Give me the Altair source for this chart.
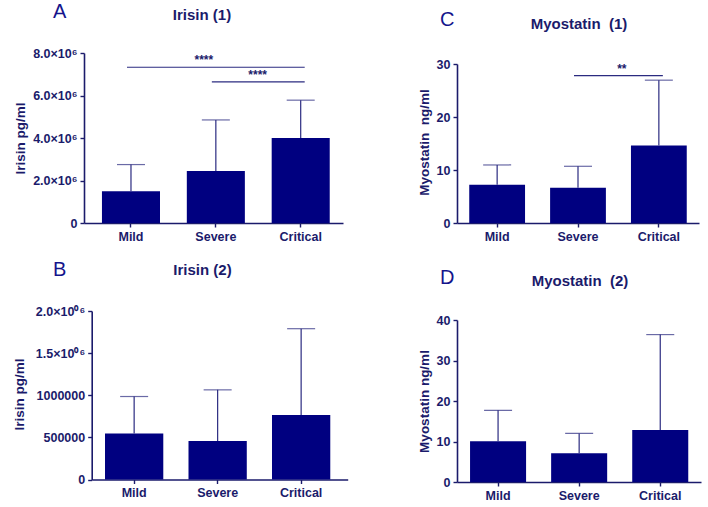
import altair as alt
import pandas as pd

# Disease-severity groups shared by all four panels
groups = ["Mild", "Severe", "Critical"]

# Irisin, cohort 1 (pg/ml): mean and SD
irisin1_mean = [1.49e6, 2.45e6, 4.00e6]
irisin1_sd = [1.26e6, 2.40e6, 1.78e6]

# Myostatin, cohort 1 (ng/ml): mean and SD
myostatin1_mean = [7.2, 6.65, 14.6]
myostatin1_sd = [3.75, 4.05, 12.35]

# Irisin, cohort 2 (pg/ml): mean and SD
irisin2_mean = [545000, 458000, 767000]
irisin2_sd = [440000, 606000, 1023000]

# Myostatin, cohort 2 (ng/ml): mean and SD
myostatin2_mean = [10.05, 7.1, 12.85]
myostatin2_sd = [7.65, 4.9, 23.55]

# Significance brackets: (from group, to group, height, stars)
irisin1_sig = [("Mild", "Critical", 7.33e6, "****"), ("Severe", "Critical", 6.64e6, "****")]
myostatin1_sig = [("Severe", "Critical", 27.8, "**")]

NAVY = "#000080"
INK = "#1b1b6b"
LINE = "#2b2b80"
FONT = "Liberation Sans"


def panel(mean, sd, letter, title, ytitle, ydomain, yvalues, label_expr,
          xscale, yrange, size, letter_xy, title_xy, ytitle_xy,
          yaxis_offset=0, xaxis_offset=0, sig=(), sig_text=()):
    df = pd.DataFrame({
        "group": groups,
        "mean": mean,
        "upper": [m + s for m, s in zip(mean, sd)],
    })
    xr, pin, pout, algn = xscale
    x = alt.X(
        "group:N",
        scale=alt.Scale(domain=groups, range=xr, paddingInner=pin,
                        paddingOuter=pout, align=algn),
        axis=alt.Axis(
            title=None, labelAngle=0, labelFont=FONT, labelFontSize=12.5,
            labelFontWeight="bold", labelColor=INK, labelPadding=3,
            domainColor=INK, domainWidth=1.6, tickColor=INK, tickWidth=1.4,
            tickSize=4, grid=False, offset=xaxis_offset,
        ),
    )
    y = alt.Y(
        "mean:Q",
        scale=alt.Scale(domain=ydomain, range=yrange, nice=False, zero=True),
        axis=alt.Axis(
            title=ytitle, values=yvalues, labelExpr=label_expr,
            labelFont=FONT, labelFontSize=12.5, labelFontWeight="bold",
            labelColor=INK, labelPadding=3, labelOverlap=False,
            domainColor=INK, domainWidth=1.6, tickColor=INK, tickWidth=1.4,
            tickSize=4, grid=False, offset=yaxis_offset,
            titleFont=FONT, titleFontSize=13.5, titleFontWeight="bold",
            titleColor=INK, titleAngle=270, titleAlign="center",
            titleBaseline="middle", titleX=ytitle_xy[0], titleY=ytitle_xy[1],
        ),
    )
    base = alt.Chart(df)
    gx = alt.X("group:N")
    bars = base.mark_bar(color=NAVY).encode(x=x, y=y)
    whisker = base.mark_rule(color=LINE, strokeWidth=1.2).encode(
        x=gx, y="mean:Q", y2="upper:Q")
    cap = base.mark_tick(color=LINE, thickness=1.2, size=28).encode(
        x=gx, y="upper:Q")
    layers = [bars, whisker, cap]

    for (g1, g2, h, stars), (sx_group, sdx) in zip(sig, sig_text):
        sdf = pd.DataFrame({"g1": [g1], "g2": [g2], "h": [h], "s": [stars], "sg": [sx_group]})
        rule = alt.Chart(sdf).mark_rule(
            color=LINE, strokeWidth=1.2, xOffset=-4, x2Offset=4
        ).encode(x=alt.X("g1:N"), x2="g2:N", y="h:Q")
        txt = alt.Chart(sdf).mark_text(
            font=FONT, fontSize=12, fontWeight="bold", color=INK,
            baseline="middle", dx=sdx, dy=-7,
        ).encode(x=alt.X("sg:N"), y="h:Q", text="s:N")
        layers += [rule, txt]

    letter_df = pd.DataFrame({"t": [letter]})
    title_df = pd.DataFrame({"t": [title]})
    lt = alt.Chart(letter_df).mark_text(
        font=FONT, fontSize=20, color="#14148c", align="left",
        baseline="alphabetic",
    ).encode(text="t:N", x=alt.value(letter_xy[0]), y=alt.value(letter_xy[1]))
    tt = alt.Chart(title_df).mark_text(
        font=FONT, fontSize=15, fontWeight="bold", color=INK, align="center",
        baseline="alphabetic",
    ).encode(text="t:N", x=alt.value(title_xy[0]), y=alt.value(title_xy[1]))
    layers += [lt, tt]

    return alt.layer(*layers).properties(width=size[0], height=size[1])


irisin1_labels = "datum.value == 0 ? '0' : format(datum.value / 1e6, '.1f') + '×10⁶'"
irisin2_labels = ("datum.value == 0 ? '0' : datum.value < 1.5e6 ? format(datum.value, 'd') "
                  ": format(datum.value / 1e6, '.1f') + '×10⁰\u200a⁶'")
plain_labels = "format(datum.value, 'd')"

A = panel(irisin1_mean, irisin1_sd, "A", "Irisin (1)", "Irisin pg/ml",
          [0, 8e6], [0, 2e6, 4e6, 6e6, 8e6], irisin1_labels,
          ([0, 259], 0.316, 0.184, 0.575), [170, 0], (264, 170),
          (-31, -35), (118, -33), (-64, 85),
          sig=irisin1_sig, sig_text=[("Severe", -12), ("Critical", -43)])

C = panel(myostatin1_mean, myostatin1_sd, "C", "Myostatin\u00a0 (1)", "Myostatin\u00a0 ng/ml",
          [0, 30], [0, 10, 20, 30], plain_labels,
          ([0, 242], 0.31, 0.1515, 0.5), [170, 11], (244, 170),
          (-17, -27), (122, -24), (-33, 89),
          sig=myostatin1_sig, sig_text=[("Critical", -37)])

B = panel(irisin2_mean, irisin2_sd, "B", "Irisin (2)", "Irisin pg/ml",
          [0, 2e6], [0, 5e5, 1e6, 1.5e6, 2e6], irisin2_labels,
          ([7.7, 263.7], 0.302, 0.184, 0.433), [168.5, 0], (264, 171),
          (-31, -35), (118.5, -36), (-72, 83),
          yaxis_offset=-7.7, xaxis_offset=-2.5)

D = panel(myostatin2_mean, myostatin2_sd, "D", "Myostatin\u00a0 (2)", "Myostatin ng/ml",
          [0, 40], [0, 10, 20, 30, 40], plain_labels,
          ([0, 244], 0.309, 0.159, 0.506), [171, 9], (244, 171),
          (-17, -27), (123, -25), (-33, 90))

chart = alt.concat(
    A, C, B, D, columns=2, bounds="flush",
    spacing={"row": 88, "column": 109},
).properties(
    padding={"left": 12, "top": 2, "right": 4, "bottom": 4},
    background="white",
).configure_view(strokeWidth=0)

chart.save("out.html", embed_options={"renderer": "svg", "actions": False})
